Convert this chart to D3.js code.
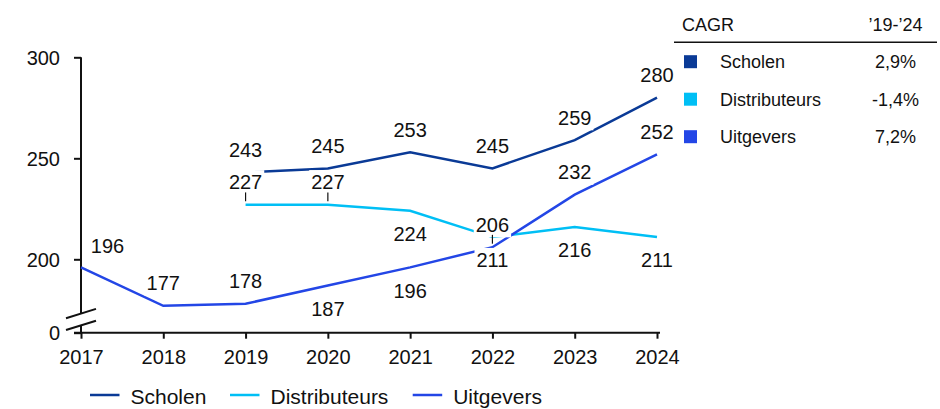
<!DOCTYPE html>
<html>
<head>
<meta charset="utf-8">
<script src="https://cdn.jsdelivr.net/npm/d3@7"></script>
<style>
  html, body { margin: 0; padding: 0; background: #fff; }
  svg { display: block; font-family: "Liberation Sans", Arial, sans-serif; }
</style>
</head>
<body>
<svg id="chart" width="940" height="409"></svg>
<script>
// ---- data ----
const years = [2017, 2018, 2019, 2020, 2021, 2022, 2023, 2024];
const scholen = [null, null, 243, 245, 253, 245, 259, 280];
const distributeurs = [null, null, 227, 227, 224, 211, 216, 211];
const uitgevers = [196, 177, 178, 187, 196, 206, 232, 252];
const seriesNames = ["Scholen", "Distributeurs", "Uitgevers"];
const cagrValues = ["2,9%", "-1,4%", "7,2%"];
const cagrTitle = "CAGR";
const cagrPeriod = "\u201919-\u201924";
const yTicks = [0, 200, 250, 300];

// ---- styling / label placement ----
const colors = ["#0a3a96", "#00bff5", "#2346e6"];
// "a" = label above the point, "b" = below, "r" = above and to the right
const placement = [
  ["", "", "a", "a", "a", "a", "a", "a"],
  ["", "", "a", "a", "b", "b", "b", "b"],
  ["r", "a", "a", "b", "b", "a", "a", "a"]
];
const leaders = [
  [],
  [2019, 2020],
  [2022]
];
const seriesValues = [scholen, distributeurs, uitgevers];

const svg = d3.select("#chart");
const ink = "#111";

const x = d3.scalePoint().domain(years).range([81, 657]);
// broken axis: linear from 170 upward, the 0-170 stretch squeezed into the break
const y = d3.scaleLinear().domain([0, 170, 300]).range([332.7, 319.9, 57.3]);

// ---- y axis ----
const yAxis = svg.append("g")
  .attr("transform", `translate(${x(years[0])},0)`)
  .call(d3.axisLeft(y).tickValues(yTicks).tickSize(7).tickPadding(14).tickFormat(d3.format("d")));
yAxis.select(".domain").attr("stroke", ink).attr("stroke-width", 2)
  .attr("d", `M0,${y(300)}V${y(0)}`);
yAxis.selectAll(".tick line").attr("stroke", ink).attr("stroke-width", 2);
yAxis.selectAll(".tick text").attr("fill", ink).attr("font-size", 20)
  .attr("dy", null).attr("y", 7.2).attr("font-family", "Liberation Sans, Arial, sans-serif");

// ---- x axis ----
const xAxis = svg.append("g")
  .attr("transform", `translate(0,${y(0)})`)
  .call(d3.axisBottom(x).tickSize(6).tickPadding(0).tickFormat(d3.format("d")));
xAxis.select(".domain").attr("stroke", ink).attr("stroke-width", 2)
  .attr("d", `M74,0H660`);
xAxis.selectAll(".tick line").attr("stroke", ink).attr("stroke-width", 2);
xAxis.selectAll(".tick text").attr("fill", ink).attr("font-size", 20)
  .attr("dy", null).attr("y", 31.6).attr("font-family", "Liberation Sans, Arial, sans-serif");

// ---- axis break ----
const bx = x(years[0]);
const b0 = y(0);
svg.append("path")
  .attr("d", `M${bx - 15},${b0 - 14.5}L${bx + 15},${b0 - 23.8}L${bx + 15},${b0 - 12}L${bx - 15},${b0 - 2.7}Z`)
  .attr("fill", "#fff");
[[b0 - 14.5, b0 - 23.8], [b0 - 2.7, b0 - 12]].forEach(([a, b]) => {
  svg.append("line")
    .attr("x1", bx - 15).attr("y1", a)
    .attr("x2", bx + 15).attr("y2", b)
    .attr("stroke", ink).attr("stroke-width", 2);
});

// ---- lines ----
const line = d3.line()
  .defined(d => d.v != null)
  .x(d => x(d.year))
  .y(d => y(d.v));

seriesValues.forEach((vals, i) => {
  const pts = years.map((yr, k) => ({ year: yr, v: vals[k] }));
  svg.append("path")
    .datum(pts)
    .attr("fill", "none")
    .attr("stroke", colors[i])
    .attr("stroke-width", 2.5)
    .attr("d", line);
});

// ---- value labels with white backgrounds ----
const fs = 20;
const capH = 0.716 * fs;
const labelLayer = svg.append("g");
const leaderLayer = svg.append("g");

seriesValues.forEach((vals, i) => {
  years.forEach((yr, k) => {
    const v = vals[k];
    if (v == null) return;
    const px = x(yr), py = y(v);
    const p = placement[i][k];
    let cx = px, cy;
    if (p === "a") cy = py - 22.5;
    else if (p === "b") cy = py + 23;
    else { cx = px + 26.5; cy = py - 22; }
    const base = cy + capH / 2;
    const g = labelLayer.append("g");
    const rect = g.append("rect").attr("fill", "#fff");
    const t = g.append("text")
      .attr("x", cx).attr("y", base)
      .attr("text-anchor", "middle")
      .attr("font-size", fs)
      .attr("fill", ink)
      .text(v);
    const bb = t.node().getBBox();
    rect.attr("x", bb.x - 2).attr("y", base - capH - 5)
      .attr("width", bb.width + 4).attr("height", capH + 10.5);
    if (leaders[i].includes(yr)) {
      leaderLayer.append("line")
        .attr("x1", px).attr("x2", px)
        .attr("y1", base + 3).attr("y2", py - 3.5)
        .attr("stroke", ink).attr("stroke-width", 1.2);
    }
  });
});

// ---- CAGR table ----
const tbl = svg.append("g");
tbl.append("text").attr("x", 682).attr("y", 25 + 0.716 * 18 / 2)
  .attr("font-size", 18).attr("fill", ink).text(cagrTitle);
tbl.append("text").attr("x", 895.5).attr("y", 25 + 0.716 * 18 / 2)
  .attr("text-anchor", "middle").attr("font-size", 18).attr("fill", ink).text(cagrPeriod);
tbl.append("line").attr("x1", 674).attr("x2", 937).attr("y1", 42.3).attr("y2", 42.3)
  .attr("stroke", ink).attr("stroke-width", 1.5);
const rowY = d3.scalePoint().domain(seriesNames).range([61.7, 136.7]);
seriesNames.forEach((name, i) => {
  const cy = rowY(name);
  tbl.append("rect").attr("x", 684).attr("y", cy - 6.5).attr("width", 13).attr("height", 13)
    .attr("fill", colors[i]);
  tbl.append("text").attr("x", 720).attr("y", cy + 0.716 * 18 / 2)
    .attr("font-size", 18).attr("fill", ink).text(name);
  tbl.append("text").attr("x", 895.5).attr("y", cy + 0.716 * 18 / 2)
    .attr("text-anchor", "middle").attr("font-size", 18).attr("fill", ink).text(cagrValues[i]);
});

// ---- bottom legend ----
const legX = [90, 230, 412.7];
const leg = svg.append("g");
seriesNames.forEach((name, i) => {
  leg.append("line").attr("x1", legX[i]).attr("x2", legX[i] + 29.5)
    .attr("y1", 395).attr("y2", 395)
    .attr("stroke", colors[i]).attr("stroke-width", 2.5);
  leg.append("text").attr("x", legX[i] + 40.5).attr("y", 403.5)
    .attr("font-size", 21).attr("fill", ink).text(name);
});
</script>
</body>
</html>
